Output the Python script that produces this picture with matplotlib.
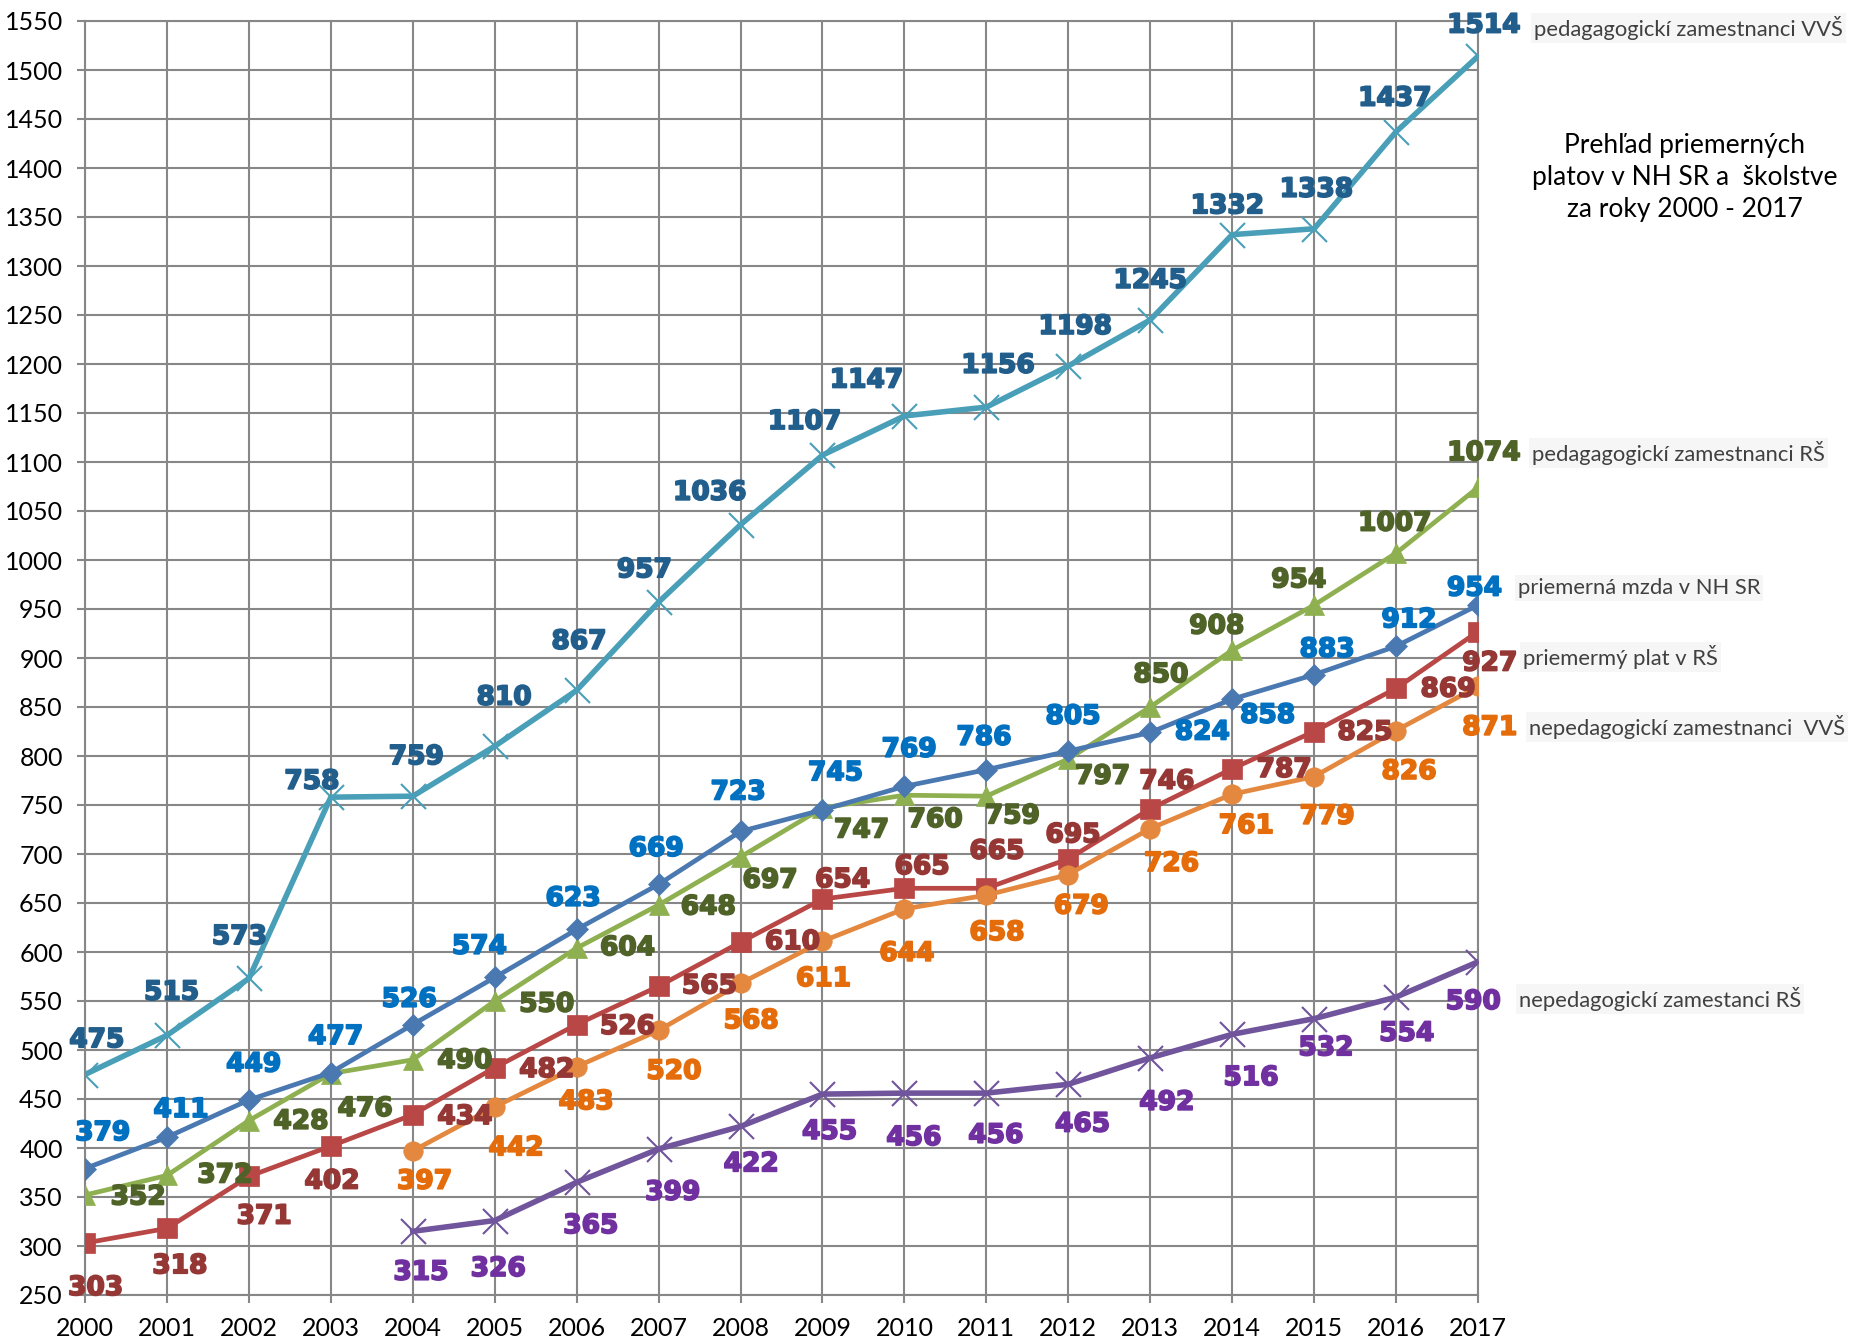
import matplotlib
matplotlib.use("Agg")
import matplotlib.pyplot as plt
import matplotlib.patheffects as pe

# Údaje - priemerné platy (EUR)
roky = list(range(2000, 2018))
roky_od_2004 = list(range(2004, 2018))

ped_vvs = [475, 515, 573, 758, 759, 810, 867, 957, 1036, 1107, 1147, 1156, 1198, 1245, 1332, 1338, 1437, 1514]
ped_rs = [352, 372, 428, 476, 490, 550, 604, 648, 697, 747, 760, 759, 797, 850, 908, 954, 1007, 1074]
mzda_nh = [379, 411, 449, 477, 526, 574, 623, 669, 723, 745, 769, 786, 805, 824, 858, 883, 912, 954]
plat_rs = [303, 318, 371, 402, 434, 482, 526, 565, 610, 654, 665, 665, 695, 746, 787, 825, 869, 927]
neped_vvs = [397, 442, 483, 520, 568, 611, 644, 658, 679, 726, 761, 779, 826, 871]
neped_rs = [315, 326, 365, 399, 422, 455, 456, 456, 465, 492, 516, 532, 554, 590]

nazvy = ["pedagagogickí zamestnanci VVŠ", "pedagagogickí zamestnanci RŠ",
         "priemerná mzda v NH SR", "priemermý plat v RŠ",
         "nepedagogickí zamestnanci  VVŠ", "nepedagogickí zamestanci RŠ"]

# posuny popiskov (px na zmenšenom obrázku 1568 px)
pos_ped_vvs = [(10, 29), (4, 36), (-8, 35), (-16, 13), (3, 33), (8, 41), (2, 41), (-12, 27), (-26, 27),
               (-15, 28), (-32, 30), (10, 35), (6, 33), (0, 33), (-4, 24), (2, 33), (-1, 28), (5, 26)]
pos_ped_rs = [(45, -2), (49, 0), (44, -1), (29, -30), (44, -1), (44, -3), (43, 0), (42, -2), (25, -20),
              (33, -19), (26, -21), (22, -17), (29, -15), (9, 27), (-13, 20), (-13, 21), (-1, 25), (5, 29)]
pos_mzda = [(15, 30), (12, 23), (4, 30), (4, 30), (-3, 21), (-13, 26), (-3, 26), (-2, 30), (-2, 33),
            (11, 31), (4, 31), (-2, 27), (4, 29), (44, 0), (30, -14), (11, 21), (11, 22), (-3, 14)]
pos_plat = [(9, -38), (11, -32), (13, -34), (1, -30), (44, -2), (44, -2), (43, -2), (43, 0), (44, 0),
            (17, 16), (15, 18), (9, 31), (4, 20), (14, 23), (44, -1), (43, -1), (44, -1), (10, -27)]
pos_neped_vvs = [(10, -26), (18, -35), (8, -30), (13, -35), (9, -32), (1, -32), (2, -38), (9, -32),
                 (11, -27), (18, -30), (12, -27), (11, -34), (11, -35), (10, -35)]
pos_neped_rs = [(7, -35), (3, -41), (12, -37), (12, -37), (9, -32), (6, -32), (8, -38), (8, -36),
                (12, -34), (14, -38), (16, -37), (10, -25), (9, -31), (-4, -34)]

W, H = 1854, 1342
S = W / 1568

plt.rcParams['font.family'] = ['Lato', 'DejaVu Sans']

fig = plt.figure(figsize=(W / 100, H / 100), dpi=100)
ax = fig.add_axes([85 / W, 1 - 1295 / H, (1478 - 85) / W, (1295 - 21) / H])

seria = [
    (roky, ped_vvs, "#4A9FB8", "#215E8B", "x", 18, 4.0, pos_ped_vvs),
    (roky, ped_rs, "#8FB050", "#4F6228", "^", 15, 3.4, pos_ped_rs),
    (roky, mzda_nh, "#4A78B0", "#0070C0", "D", 11, 3.4, pos_mzda),
    (roky, plat_rs, "#B84745", "#953735", "s", 14, 3.4, pos_plat),
    (roky_od_2004, neped_vvs, "#E3883E", "#E46C0A", "o", 14, 3.4, pos_neped_vvs),
    (roky_od_2004, neped_rs, "#70549C", "#7030A0", "x", 18, 4.0, pos_neped_rs),
]

for x, y, farba, farba_txt, mk, ms, lw, posuny in seria:
    ax.plot(x, y, color=farba, lw=lw, marker=mk, markersize=ms,
            markeredgewidth=1.5 if mk == "x" else 0.5, markeredgecolor=farba, zorder=3)
    for xi, yi, (dx, dy) in zip(x, y, posuny):
        ax.annotate(str(yi), (xi, yi), xytext=(dx * S, dy * S), textcoords="offset pixels",
                    ha="center", va="center", color=farba_txt, fontsize=19,
                    fontweight="bold", family="DejaVu Sans", zorder=4,
                    path_effects=[pe.withStroke(linewidth=1.3, foreground=farba_txt)])

ax.set_xlim(2000, 2017)
ax.set_ylim(250, 1550)
ax.set_xticks(roky)
ax.set_yticks(range(250, 1551, 50))
ax.grid(True, color="#878787", lw=1.5)
ax.set_axisbelow(True)
for s in ax.spines.values():
    s.set_color("#878787")
    s.set_linewidth(1.5)
ax.tick_params(length=6, width=1.5, color="#878787", labelsize=18, pad=10)

# popisky sérií vpravo (x vľavo, y stred v px)
pozicie_nazvov = [(1534, 28), (1532, 453), (1518, 588), (1523, 657), (1529, 727), (1519, 999)]
for txt, (px, py) in zip(nazvy, pozicie_nazvov):
    fig.text(px / W, 1 - py / H, txt, ha="left", va="center", fontsize=15.8, color="#404040",
             bbox=dict(facecolor="#F6F6F6", edgecolor="none", pad=2))

fig.text(1685 / W, 1 - 178 / H, "Prehľad priemerných\nplatov v NH SR a  školstve\nza roky 2000 - 2017",
         ha="center", va="center", fontsize=19, color="black", linespacing=1.35)

fig.savefig("out.png", dpi=100)
